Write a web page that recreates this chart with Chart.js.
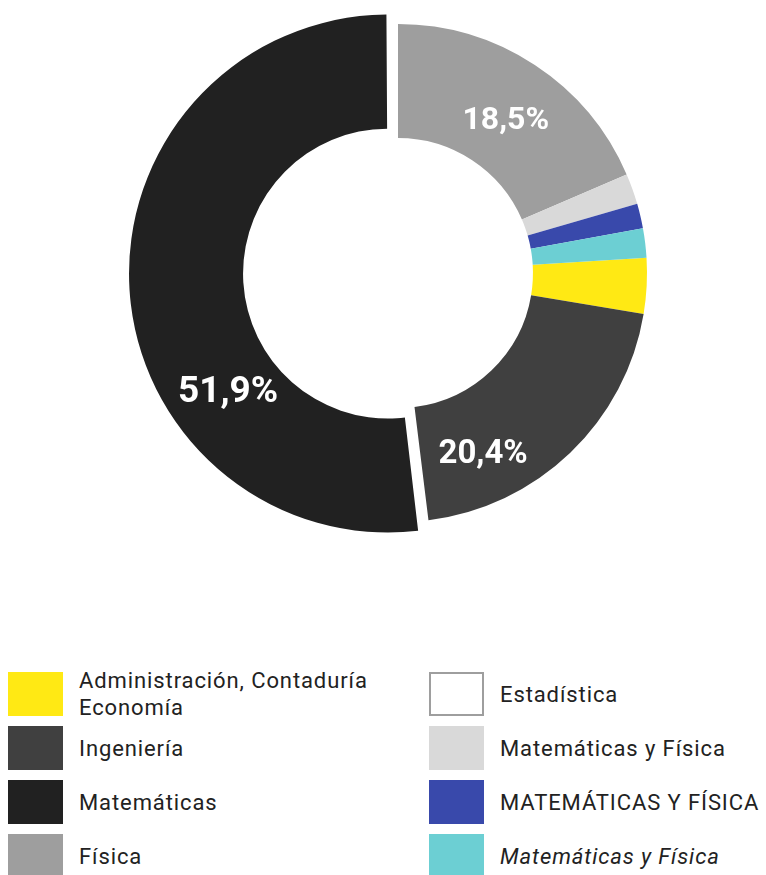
<!DOCTYPE html>
<html lang="es">
<head>
<meta charset="utf-8">
<title>Distribución por carrera</title>
<script src="https://cdn.jsdelivr.net/npm/chart.js@4.4.1/dist/chart.umd.min.js"></script>
<style>
    html, body {
        margin: 0;
        padding: 0;
        background: #fff;
        width: 766px;
        height: 875px;
        overflow: hidden;
        font-family: Roboto, "Noto Sans", sans-serif;
    }
    .chart-box {
        position: absolute;
        left: 0;
        top: 0;
        width: 766px;
        height: 546px;
    }
    .legend {
        position: absolute;
        left: 8px;
        top: 672px;
        display: grid;
        grid-template-columns: 421px 337px;
        grid-template-rows: repeat(4, 44px);
        grid-auto-flow: column;
        row-gap: 10px;
        font-size: 22px;
        line-height: 27px;
        letter-spacing: 0.9px;
        color: #222;
    }
    .legend-item {
        display: flex;
        align-items: center;
    }
    .legend-item .swatch {
        flex: 0 0 auto;
        width: 55px;
        height: 44px;
        box-sizing: border-box;
        margin-right: 16px;
    }
    .legend-item .text {
        max-width: 330px;
        white-space: nowrap;
    }
    .legend-item .text.wrap {
        white-space: normal;
    }
</style>
</head>
<body>
<div class="chart-box"><canvas id="careerChart"></canvas></div>
<div class="legend" id="careerLegend"></div>

<script>
// Careers and their share of students (%)
const careers = [
    "Administración, Contaduría Economía",
    "Ingeniería",
    "Matemáticas",
    "Física",
    "Estadística",
    "Matemáticas y Física",
    "MATEMÁTICAS Y FÍSICA",
    "Matemáticas y Física",
];
const shares = [3.6, 20.4, 51.9, 18.5, 0, 2.0, 1.6, 1.9];

const sliceColors = [
    "#ffe914",
    "#404040",
    "#212121",
    "#9e9e9e",
    "#ffffff",
    "#d9d9d9",
    "#3949ab",
    "#6ccfd3",
];
const italicLabels = [false, false, false, false, false, false, false, true];

// Matemáticas is pulled out of the ring
const sliceOffsets = [0, 0, 40, 0, 0, 0, 0, 0];
// where each value label sits: along the slice (0 = start, 1 = end) and across the ring (0 = inner, 1 = outer)
const labelAlong = [0.5, 0.755, 0.322, 0.53, 0.5, 0.5, 0.5, 0.5];
const labelAcross = [0.5, 0.58, 0.48, 0.45, 0.5, 0.5, 0.5, 0.5];

const total = shares.reduce((acc, val) => acc + val, 0);
// Física starts at twelve o'clock
const startRotation = -(360 * (shares[0] + shares[1] + shares[2])) / total;

const formatShare = (v) => v.toFixed(1).replace(".", ",") + "%";

const sliceLabels = {
    id: "sliceLabels",
    afterDatasetsDraw(chart) {
        const { ctx } = chart;
        const meta = chart.getDatasetMeta(0);
        ctx.save();
        ctx.fillStyle = "#ffffff";
        ctx.textAlign = "center";
        ctx.textBaseline = "middle";
        meta.data.forEach((arc, i) => {
            if (shares[i] < 10) return;
            const { x, y, startAngle, endAngle, innerRadius, outerRadius } =
                arc.getProps(["x", "y", "startAngle", "endAngle", "innerRadius", "outerRadius"], true);
            const shift = (arc.options.offset || 0) / 4;
            const half = (startAngle + endAngle) / 2;
            const cx = x + Math.cos(half) * shift;
            const cy = y + Math.sin(half) * shift;
            const angle = startAngle + (endAngle - startAngle) * labelAlong[i];
            const r = innerRadius + shift + (outerRadius - innerRadius) * labelAcross[i];
            // bigger slices get a slightly bigger label
            const size = Math.round(29.5 + shares[i] * 0.15);
            ctx.font = `bold ${size}px Roboto`;
            ctx.fillText(formatShare(shares[i]), cx + Math.cos(angle) * r, cy + Math.sin(angle) * r);
        });
        ctx.restore();
    },
};

const ctx = document.getElementById("careerChart");

new Chart(ctx, {
    type: "doughnut",
    data: {
        labels: careers,
        datasets: [
            {
                data: shares,
                backgroundColor: sliceColors,
                borderWidth: 0,
                hoverOffset: 0,
                offset: sliceOffsets,
            },
        ],
    },
    options: {
        responsive: true,
        maintainAspectRatio: false,
        animation: false,
        rotation: startRotation,
        radius: 249,
        cutout: "54.2%",
        layout: {
            padding: { left: 30 },
        },
        events: [],
        plugins: {
            legend: { display: false },
            tooltip: { enabled: false },
        },
    },
    plugins: [sliceLabels],
});

// Legend in two columns, filled top to bottom
const legend = document.getElementById("careerLegend");
careers.forEach((name, i) => {
    const item = document.createElement("div");
    item.className = "legend-item";
    const swatch = document.createElement("span");
    swatch.className = "swatch";
    swatch.style.background = sliceColors[i];
    if (sliceColors[i] === "#ffffff") {
        swatch.style.border = "2px solid #9e9e9e";
    }
    const text = document.createElement("span");
    text.className = "text";
    // the long first name breaks onto two lines
    if (name.length > 30) text.classList.add("wrap");
    text.textContent = name;
    if (italicLabels[i]) text.style.fontStyle = "italic";
    item.appendChild(swatch);
    item.appendChild(text);
    legend.appendChild(item);
});
</script>
</body>
</html>
